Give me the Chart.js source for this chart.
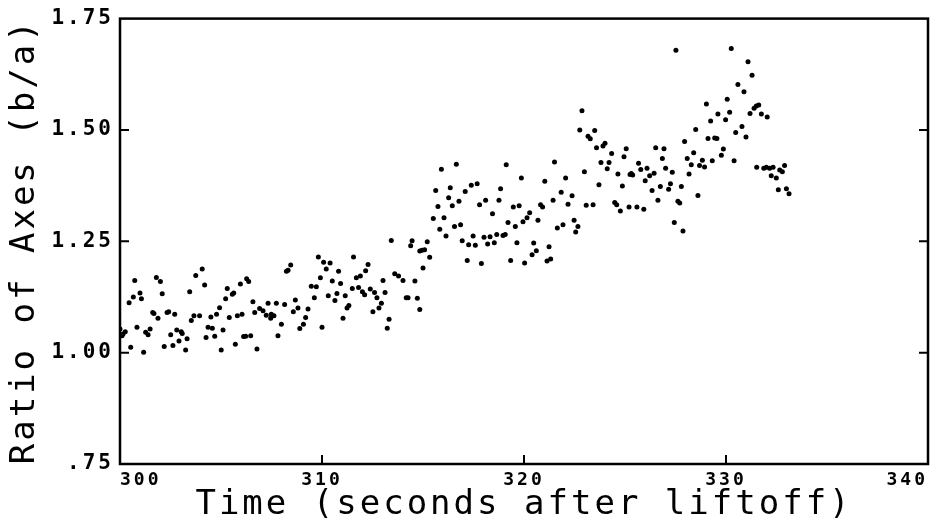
<!DOCTYPE html>
<html lang="en">
<head>
  <meta charset="UTF-8" />
  <title>Ratio of Axes vs Time</title>
  <script src="https://cdn.jsdelivr.net/npm/chart.js"></script>
  <style>
    body { margin: 0; background: #fff; }
    canvas { display: block; }
  </style>
</head>
<body>

<canvas id="ratioChart" width="952" height="529"></canvas>

<script>
// axis ranges / tick labels
const xTicks = [300, 310, 320, 330, 340];
const yTicks = [0.75, 1.00, 1.25, 1.50, 1.75];

// measured points: time (s after liftoff) and ratio b/a
const timeSec = [
  // 300 - 307
  300.73, 301.80, 302.00, 303.75, 304.07, 304.19, 306.27, 306.37, 305.96, 300.99,
  301.06, 300.66, 300.45, 302.09, 303.45, 305.31, 305.63, 305.56, 305.23, 306.58,
  307.33, 301.62, 301.68, 301.88, 302.33, 302.41, 302.71, 303.53, 303.66, 303.94,
  304.50, 304.78, 304.93, 305.41, 305.81, 306.04, 306.67, 306.91, 307.08, 307.24,
  300.00, 300.15, 300.26, 300.10, 300.84, 301.27, 301.39, 301.49, 302.51, 302.81,
  303.03, 303.08, 302.92, 303.32, 302.62, 302.19, 304.36, 304.57, 304.69, 304.26,
  305.10, 305.01, 305.71, 306.12, 306.22, 306.47, 306.78, 300.53, 301.17, 303.25,
  // 307 - 315
  313.43, 314.46, 314.39, 314.84, 309.82, 310.08, 310.40, 310.21, 308.45, 308.32,
  308.24, 311.56, 312.28, 310.82, 312.16, 309.92, 310.51, 310.92, 311.70, 311.90,
  313.02, 313.60, 313.79, 314.01, 314.60, 309.47, 309.72, 309.62, 310.31, 310.74,
  310.64, 311.15, 311.50, 311.81, 312.00, 312.11, 312.39, 312.60, 312.72, 313.12,
  312.94, 312.82, 312.52, 314.17, 314.26, 314.72, 314.84, 311.33, 311.24, 311.04,
  313.32, 313.23, 310.00, 308.68, 308.81, 308.58, 309.31, 309.19, 309.08, 308.90,
  308.15, 307.74, 307.49, 307.62, 307.46, 307.99, 307.82,
  // 315 - 322
  315.91, 316.65, 319.12, 321.51, 319.87, 321.03, 322.06, 315.63, 316.35, 317.39,
  317.68, 317.09, 318.84, 321.84, 316.27, 316.78, 318.10, 318.76, 321.44, 315.74,
  316.45, 317.80, 319.47, 319.76, 320.82, 320.92, 322.18, 318.44, 320.28, 320.15,
  319.95, 320.69, 315.51, 316.04, 319.21, 319.57, 315.83, 316.56, 316.86, 321.93,
  321.65, 316.14, 317.48, 318.02, 318.32, 318.65, 318.96, 319.07, 315.21, 316.94,
  317.26, 317.59, 318.20, 318.53, 319.65, 320.48, 315.08, 314.95, 315.33, 315.00,
  317.19, 317.89, 319.34, 320.03, 320.61, 320.40, 321.24, 321.14, 321.32,
  // 322 - 330
  322.87, 329.03, 329.60, 322.76, 323.50, 323.17, 323.28, 328.50, 329.24, 329.11,
  329.44, 329.55, 327.95, 323.59, 323.91, 324.01, 325.06, 326.52, 326.93, 324.34,
  324.95, 326.85, 328.40, 328.08, 328.83, 323.81, 324.21, 324.12, 325.67, 328.28,
  328.69, 328.94, 329.32, 325.78, 326.09, 327.01, 327.34, 322.99, 324.65, 325.25,
  325.31, 325.38, 326.44, 326.22, 326.00, 328.17, 323.71, 324.87, 326.75, 327.25,
  327.16, 327.79, 326.34, 322.38, 328.61, 326.63, 327.62, 327.71, 323.08, 323.42,
  324.49, 324.59, 325.20, 325.59, 325.93, 324.77, 322.48, 322.67, 322.56, 327.44,
  327.87, 327.52,
  // 330 - 333
  330.26, 331.09, 331.29, 330.59, 330.89, 330.06, 331.39, 331.50, 331.62, 331.19,
  331.75, 332.04, 330.18, 329.98, 330.79, 330.48, 330.99, 329.87, 329.77, 330.40,
  331.52, 331.87, 332.00, 332.16, 332.33, 332.90, 332.66, 332.79, 332.24, 332.49,
  332.59, 332.99, 333.12
];

const axisRatio = [
  // 300 - 307
  1.162, 1.169, 1.160, 1.173, 1.188, 1.152, 1.166, 1.160, 1.154, 1.134,
  1.121, 1.125, 1.112, 1.132, 1.137, 1.144, 1.134, 1.131, 1.121, 1.114,
  1.111, 1.090, 1.088, 1.077, 1.090, 1.092, 1.086, 1.072, 1.083, 1.083,
  1.080, 1.086, 1.101, 1.079, 1.083, 1.086, 1.090, 1.099, 1.094, 1.084,
  1.053, 1.042, 1.047, 1.038, 1.057, 1.046, 1.040, 1.053, 1.040, 1.051,
  1.047, 1.043, 1.026, 1.031, 1.016, 1.014, 1.057, 1.055, 1.037, 1.034,
  1.051, 1.006, 1.019, 1.036, 1.037, 1.038, 1.008, 1.012, 1.001, 1.006,
  // 307 - 315
  1.252, 1.251, 1.240, 1.228, 1.215, 1.203, 1.201, 1.188, 1.197, 1.185,
  1.183, 1.215, 1.198, 1.183, 1.184, 1.168, 1.161, 1.155, 1.168, 1.172,
  1.162, 1.177, 1.172, 1.162, 1.161, 1.149, 1.148, 1.123, 1.128, 1.133,
  1.117, 1.128, 1.144, 1.146, 1.137, 1.130, 1.143, 1.135, 1.123, 1.135,
  1.111, 1.100, 1.092, 1.123, 1.123, 1.122, 1.097, 1.106, 1.100, 1.077,
  1.075, 1.055, 1.057, 1.118, 1.100, 1.092, 1.098, 1.079, 1.064, 1.054,
  1.108, 1.111, 1.086, 1.083, 1.077, 1.064, 1.038,
  // 315 - 322
  1.412, 1.423, 1.422, 1.428, 1.392, 1.385, 1.392, 1.364, 1.370, 1.376,
  1.379, 1.362, 1.368, 1.360, 1.348, 1.340, 1.342, 1.342, 1.342, 1.328,
  1.330, 1.332, 1.327, 1.330, 1.332, 1.327, 1.333, 1.312, 1.314, 1.303,
  1.294, 1.297, 1.301, 1.303, 1.292, 1.283, 1.277, 1.283, 1.287, 1.287,
  1.280, 1.262, 1.262, 1.259, 1.260, 1.265, 1.263, 1.265, 1.249, 1.251,
  1.242, 1.241, 1.244, 1.247, 1.247, 1.246, 1.231, 1.230, 1.214, 1.190,
  1.207, 1.200, 1.207, 1.201, 1.229, 1.220, 1.238, 1.206, 1.210,
  // 322 - 330
  1.543, 1.558, 1.536, 1.500, 1.499, 1.486, 1.480, 1.501, 1.520, 1.481,
  1.482, 1.481, 1.474, 1.460, 1.464, 1.470, 1.458, 1.460, 1.458, 1.447,
  1.440, 1.436, 1.449, 1.436, 1.432, 1.427, 1.427, 1.413, 1.425, 1.422,
  1.420, 1.417, 1.431, 1.411, 1.414, 1.414, 1.405, 1.406, 1.401, 1.400,
  1.402, 1.399, 1.403, 1.397, 1.386, 1.401, 1.377, 1.374, 1.373, 1.379,
  1.367, 1.373, 1.364, 1.352, 1.353, 1.342, 1.340, 1.336, 1.331, 1.332,
  1.337, 1.332, 1.327, 1.327, 1.322, 1.318, 1.297, 1.283, 1.271, 1.292,
  1.273, 1.679,
  // 330 - 333
  1.683, 1.653, 1.623, 1.602, 1.586, 1.569, 1.549, 1.554, 1.556, 1.537,
  1.536, 1.529, 1.540, 1.523, 1.508, 1.494, 1.484, 1.457, 1.443, 1.431,
  1.416, 1.414, 1.416, 1.414, 1.416, 1.420, 1.410, 1.406, 1.397, 1.392,
  1.366, 1.368, 1.357
];

const points = timeSec.map((t, i) => ({ x: t, y: axisRatio[i] }));

// plotter lettering is wide, so space the glyphs out a bit
const spacing = {
  id: 'spacing',
  beforeUpdate(chart) { chart.ctx.letterSpacing = '3px'; },
  beforeDraw(chart) { chart.ctx.letterSpacing = '3px'; }
};

// box round the plot with short inward ticks
const frame = {
  id: 'frame',
  afterDraw(chart) {
    const { ctx, chartArea: a, scales: { x, y } } = chart;
    ctx.save();
    ctx.strokeStyle = '#000';
    ctx.lineWidth = 2.5;
    ctx.strokeRect(a.left, a.top, a.right - a.left, a.bottom - a.top);
    ctx.lineWidth = 2;
    ctx.beginPath();
    y.ticks.forEach(t => {
      if (t.value <= y.min || t.value >= y.max) return;
      const py = y.getPixelForValue(t.value);
      ctx.moveTo(a.left, py); ctx.lineTo(a.left + 9, py);
      ctx.moveTo(a.right, py); ctx.lineTo(a.right - 9, py);
    });
    x.ticks.forEach(t => {
      if (t.value <= x.min || t.value >= x.max) return;
      const px = x.getPixelForValue(t.value);
      ctx.moveTo(px, a.bottom); ctx.lineTo(px, a.bottom - 9);
    });
    ctx.stroke();
    ctx.restore();
  }
};

Chart.defaults.color = '#000';

new Chart(document.getElementById('ratioChart'), {
  type: 'scatter',
  data: {
    datasets: [{
      data: points,
      backgroundColor: '#000',
      borderWidth: 0,
      pointRadius: 2.5,
      pointHoverRadius: 2.5
    }]
  },
  options: {
    responsive: false,
    animation: false,
    layout: { padding: { left: 0, top: 13, right: 24, bottom: 0 } },
    plugins: { legend: { display: false }, tooltip: { enabled: false } },
    scales: {
      x: {
        min: xTicks[0],
        max: xTicks[xTicks.length - 1],
        afterBuildTicks: s => { s.ticks = xTicks.map(v => ({ value: v })); },
        afterFit: s => { s.height = 65; },
        grid: { display: false, drawTicks: false },
        border: { display: false },
        ticks: {
          autoSkip: false, maxRotation: 0, padding: 6, align: 'inner',
          font: { family: 'DejaVu Sans Mono', size: 18, weight: 'bold' },
          callback: v => String(v)
        },
        title: {
          display: true,
          text: 'Time (seconds after liftoff)',
          font: { family: 'DejaVu Sans Mono', size: 34 },
          padding: { top: 0, bottom: 3 }
        }
      },
      y: {
        min: yTicks[0],
        max: yTicks[yTicks.length - 1],
        afterBuildTicks: s => { s.ticks = yTicks.map(v => ({ value: v })); },
        afterFit: s => { s.width = 120; },
        grid: { display: false, drawTicks: false },
        border: { display: false },
        ticks: {
          padding: 6,
          font: { family: 'DejaVu Sans Mono', size: 21, weight: 'bold' },
          callback: v => v === 0.75 ? '.75' : v.toFixed(2)
        },
        title: {
          display: true,
          text: 'Ratio of Axes (b/a)',
          font: { family: 'DejaVu Sans Mono', size: 34 },
          padding: { top: 5, bottom: 0 }
        }
      }
    }
  },
  plugins: [spacing, frame]
});
</script>
</body>
</html>
